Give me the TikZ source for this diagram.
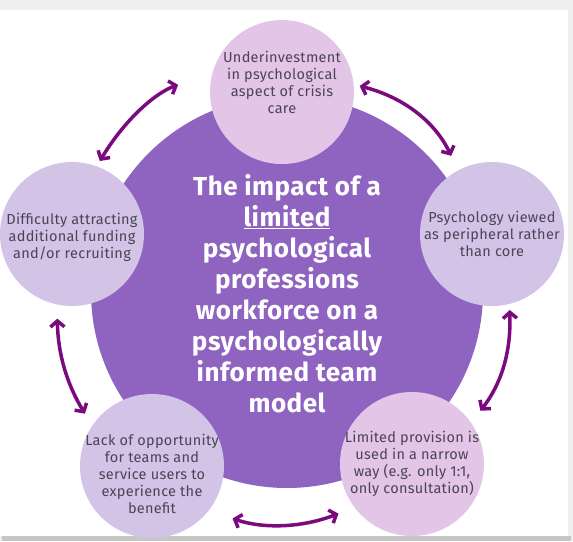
\documentclass[tikz,border=0pt]{standalone}
\usepackage{fontspec}
\setmainfont{Fira Sans}[LetterSpace=2]
\usepackage{tikz}
\usetikzlibrary{arrows.meta}
\definecolor{hubfill}{HTML}{8F64C1}
\definecolor{bubblue}{HTML}{D3C3E6}
\definecolor{bubpink}{HTML}{E3C5E8}
\definecolor{linkcol}{HTML}{7C0A7F}
\definecolor{notetext}{HTML}{4A4454}
\definecolor{pagegray}{HTML}{EFEFEF}
\definecolor{shadegray}{HTML}{C6C6C6}

\begin{document}
\begin{tikzpicture}[
    x=1pt, y=-1pt,
    hub/.style={circle, fill=hubfill, minimum size=392pt, inner sep=0pt},
    bubble/.style={circle, fill=#1, minimum size=144pt, inner sep=0pt},
    note/.style={text=notetext, align=center, font=\fontsize{14.5}{17}\selectfont, inner sep=0pt},
    headline/.style={text=white, align=center, font=\fontsize{26}{31}\selectfont\bfseries, inner sep=0pt},
    link/.style={{Straight Barb[length=6pt,width=14pt]}-{Straight Barb[length=6pt,width=14pt]},
                 line width=3.5pt, color=linkcol}
  ]
  % slide with its drop shadow
  \fill[pagegray] (0,0) rectangle (573,541);
  \fill[shadegray] (2,536) rectangle (571,541);
  \fill[white] (0,10) rectangle (568,536);
  \useasboundingbox (0,0) rectangle (573,541);

  % centre
  \node[hub] (hub) at (287,292) {};
  \node[headline] (head) at (287,294) {The impact of a\\\underline{limited}\\psychological\\professions\\workforce on a\\psychologically\\informed team\\model};

  % outer ring
  \node[bubble=bubpink] (care) at (282,92) {};
  \node[bubble=bubblue] (core) at (492,234) {};
  \node[bubble=bubpink] (narrow) at (412,464) {};
  \node[bubble=bubblue] (benefit) at (152,466) {};
  \node[bubble=bubblue] (funding) at (72,234) {};

  \node[note] (careText) at ([yshift=10pt]care) {Underinvestment\\in psychological\\aspect of crisis\\care};
  \node[note] (coreText) at (core) {Psychology viewed\\as peripheral rather\\than core};
  \node[note] (narrowText) at (narrow) {Limited provision is\\used in a narrow\\way (e.g. only 1:1,\\only consultation)};
  \node[note] (benefitText) at ([yshift=-8pt]benefit) {Lack of opportunity\\for teams and\\service users to\\experience the\\benefit};
  \node[note] (fundingText) at ([yshift=-3pt]funding) {Difficulty attracting\\additional funding\\and/or recruiting};

  % two-way arrows between neighbours
  \draw[link, bend left=20, shorten <=6pt, shorten >=36pt] (funding.70) to (care.165);
  \draw[link, bend left=25, shorten <=6pt, shorten >=16pt] (care.6) to (core.118);
  \draw[link, bend left=20, shorten <=6pt, shorten >=15pt] (core.284) to (narrow.35);
  \draw[link, bend left=20, shorten <=17pt, shorten >=25pt] (narrow.217) to (benefit.322);
  \draw[link, bend left=15, shorten <=14pt, shorten >=14pt] (benefit.146) to (funding.258);
\end{tikzpicture}
\end{document}
